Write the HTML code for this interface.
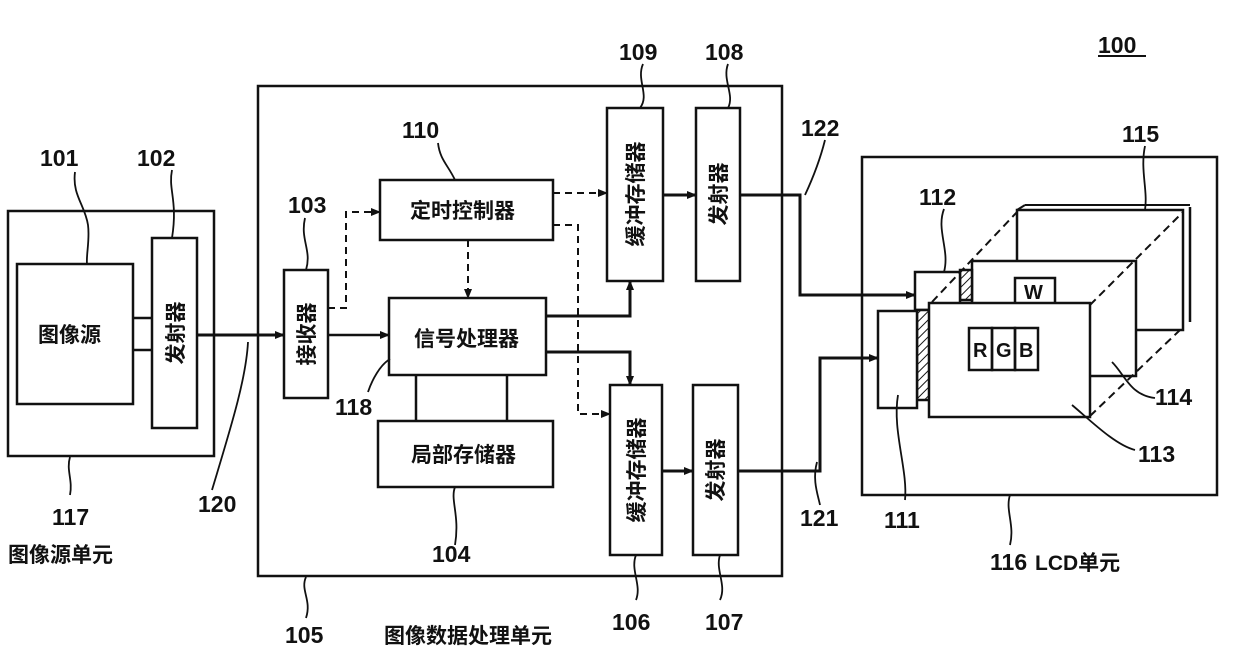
<!DOCTYPE html>
<html><head><meta charset="utf-8"><style>
html,body{margin:0;padding:0;background:#fff;}
svg{display:block;}
text{font-family:"Liberation Sans","Noto Sans CJK SC",sans-serif;fill:#111;}
.n{font-size:23px;font-weight:bold;}
.c{font-size:21px;font-weight:bold;font-family:"Noto Sans CJK SC","WenQuanYi Zen Hei",sans-serif;}
</style></head><body>
<svg width="1240" height="666" viewBox="0 0 1240 666" xmlns="http://www.w3.org/2000/svg">
<defs>
<marker id="a" markerWidth="10" markerHeight="8" refX="9" refY="4" orient="auto" markerUnits="userSpaceOnUse"><path d="M0,0 L10,4 L0,8 z" fill="#111"/></marker>
<pattern id="h" width="6" height="6" patternUnits="userSpaceOnUse" patternTransform="rotate(45)"><rect width="6" height="6" fill="#fff"/><line x1="0" y1="0" x2="0" y2="6" stroke="#111" stroke-width="2"/></pattern>
</defs>
<g fill="none" stroke="#111" stroke-width="2.5">
<rect x="8" y="211" width="206" height="245"/>
<rect x="17" y="264" width="116" height="140"/>
<rect x="152" y="238" width="45" height="190"/>
<line x1="133" y1="318" x2="152" y2="318"/>
<line x1="133" y1="350" x2="152" y2="350"/>
<line x1="197" y1="335" x2="284" y2="335" marker-end="url(#a)" stroke-width="3"/>
<rect x="258" y="86" width="524" height="490"/>
<rect x="284" y="270" width="44" height="128"/>
<rect x="380" y="180" width="173" height="60"/>
<rect x="389" y="298" width="157" height="77"/>
<rect x="378" y="421" width="175" height="66"/>
<line x1="416" y1="375" x2="416" y2="421"/>
<line x1="507" y1="375" x2="507" y2="421"/>
<rect x="607" y="108" width="56" height="173"/>
<rect x="696" y="108" width="44" height="173"/>
<rect x="610" y="385" width="52" height="170"/>
<rect x="693" y="385" width="45" height="170"/>
<line x1="328" y1="335" x2="389" y2="335" marker-end="url(#a)"/>
<g stroke-dasharray="7,5" stroke-width="2">
<polyline points="328,308 346,308 346,212 380,212" marker-end="url(#a)"/>
<line x1="468" y1="240" x2="468" y2="298" marker-end="url(#a)"/>
<line x1="553" y1="193" x2="607" y2="193" marker-end="url(#a)"/>
<polyline points="553,225 578,225 578,414 610,414" marker-end="url(#a)"/>
</g>
<polyline points="546,316 630,316 630,281" marker-end="url(#a)" stroke-width="3"/>
<polyline points="546,352 630,352 630,385" marker-end="url(#a)" stroke-width="3"/>
<line x1="663" y1="195" x2="696" y2="195" marker-end="url(#a)" stroke-width="3"/>
<line x1="662" y1="471" x2="693" y2="471" marker-end="url(#a)" stroke-width="3"/>
<polyline points="740,195 800,195 800,295 915,295" marker-end="url(#a)" stroke-width="3"/>
<polyline points="738,471 820,471 820,358 878,358" marker-end="url(#a)" stroke-width="3"/>
<rect x="862" y="157" width="355" height="338"/>
<rect x="1017" y="210" width="166" height="120" fill="#fff"/>
<line x1="1190" y1="207" x2="1190" y2="322"/>
<line x1="1017" y1="210" x2="1025" y2="205" stroke-width="2"/>
<line x1="1025" y1="205" x2="1190" y2="205" stroke-width="2"/>
<rect x="972" y="261" width="164" height="115" fill="#fff"/>
<rect x="1015" y="278" width="40" height="26" fill="#fff"/>
<rect x="960" y="270" width="12" height="30" fill="url(#h)"/>
<rect x="915" y="272" width="45" height="38" fill="#fff"/>
<rect x="917" y="310" width="13" height="90" fill="url(#h)"/>
<rect x="878" y="311" width="39" height="97" fill="#fff"/>
<rect x="929" y="303" width="161" height="114" fill="#fff"/>
<rect x="969" y="328" width="23" height="42"/>
<rect x="992" y="328" width="23" height="42"/>
<rect x="1015" y="328" width="23" height="42"/>
<g stroke-dasharray="8,5" stroke-width="2">
<line x1="932" y1="302" x2="1017" y2="212"/>
<line x1="1090" y1="305" x2="1183" y2="212"/>
<line x1="1090" y1="416" x2="1180" y2="330"/>
</g>
<g stroke-width="1.8">
<path d="M75,172 C72,195 85,205 88,225 C90,240 86,255 87,264"/>
<path d="M172,170 C168,190 178,200 172,238"/>
<path d="M305,218 C300,240 312,250 306,270"/>
<path d="M438,143 C440,160 448,165 455,180"/>
<path d="M643,64 C636,80 650,95 640,108"/>
<path d="M728,64 C722,80 735,95 728,108"/>
<path d="M825,140 C820,160 812,180 805,195"/>
<path d="M1145,146 C1140,170 1148,190 1145,210"/>
<path d="M944,209 C936,230 950,250 944,272"/>
<path d="M390,359 C380,365 372,380 368,392"/>
<path d="M248,342 C246,380 230,430 212,490"/>
<path d="M70,457 C66,470 73,480 70,495"/>
<path d="M455,487 C450,500 460,515 455,545"/>
<path d="M306,577 C300,590 312,600 306,618"/>
<path d="M636,555 C630,570 642,585 636,600"/>
<path d="M720,555 C715,570 727,585 720,600"/>
<path d="M1010,495 C1005,510 1015,525 1010,545"/>
<path d="M898,395 C892,430 908,470 905,500"/>
<path d="M1112,362 C1125,375 1130,395 1155,398"/>
<path d="M1072,405 C1090,420 1115,445 1135,450"/>
<path d="M817,462 C812,480 818,495 820,505"/>
</g>
</g>
<line x1="1098" y1="56" x2="1146" y2="56" stroke="#111" stroke-width="2"/>
<g class="n">
<text x="1098" y="53">100</text>
<text x="40" y="166">101</text>
<text x="137" y="166">102</text>
<text x="288" y="213">103</text>
<text x="402" y="138">110</text>
<text x="619" y="60">109</text>
<text x="705" y="60">108</text>
<text x="801" y="136">122</text>
<text x="1122" y="142">115</text>
<text x="919" y="205">112</text>
<text x="335" y="415">118</text>
<text x="1155" y="405">114</text>
<text x="1138" y="462">113</text>
<text x="884" y="528">111</text>
<text x="800" y="526">121</text>
<text x="198" y="512">120</text>
<text x="52" y="525">117</text>
<text x="432" y="562">104</text>
<text x="612" y="630">106</text>
<text x="705" y="630">107</text>
<text x="285" y="643">105</text>
<text x="990" y="570">116</text>
</g>
<g class="c">
<text x="38" y="342">图像源</text>
<text x="410" y="218">定时控制器</text>
<text x="414" y="346">信号处理器</text>
<text x="411" y="462">局部存储器</text>
<text x="8" y="562">图像源单元</text>
<text x="384" y="643">图像数据处理单元</text>
<text x="1035" y="570">LCD单元</text>
<text transform="translate(183,333) rotate(-90)" text-anchor="middle">发射器</text>
<text transform="translate(314,334) rotate(-90)" text-anchor="middle">接收器</text>
<text transform="translate(643,194) rotate(-90)" text-anchor="middle">缓冲存储器</text>
<text transform="translate(726,194) rotate(-90)" text-anchor="middle">发射器</text>
<text transform="translate(644,470) rotate(-90)" text-anchor="middle">缓冲存储器</text>
<text transform="translate(723,470) rotate(-90)" text-anchor="middle">发射器</text>
</g>
<g style="font-size:20px;font-weight:bold;">
<text x="1024" y="299">W</text>
<text x="973" y="357">R</text>
<text x="996" y="357">G</text>
<text x="1019" y="357">B</text>
</g>
</svg>
</body></html>
